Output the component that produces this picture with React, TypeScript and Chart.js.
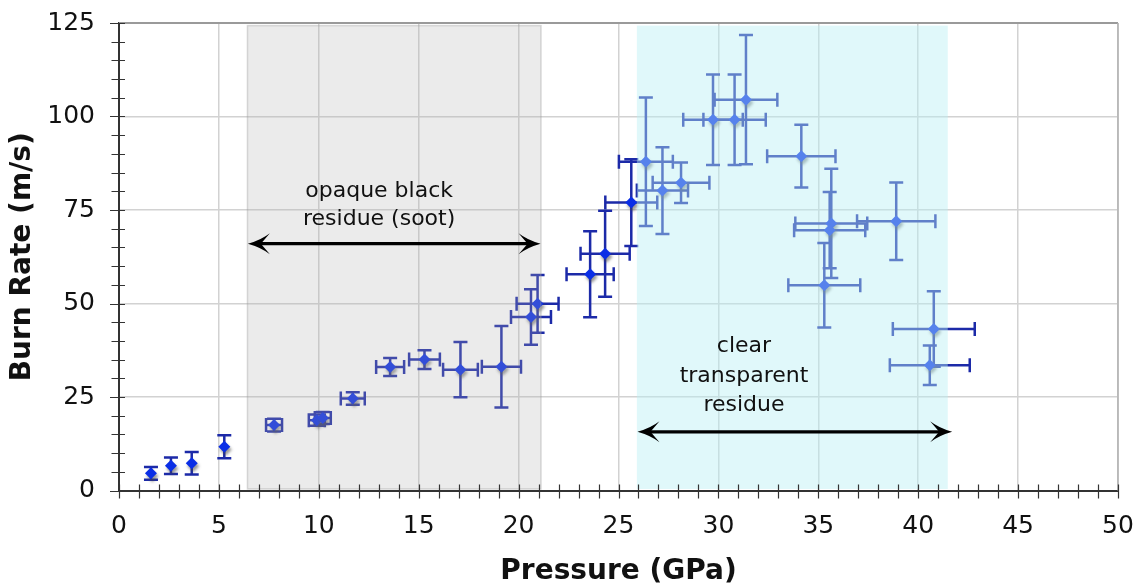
import React, { useEffect, useRef } from 'react';
import { Chart, registerables } from 'chart.js';

Chart.register(...registerables);

// Pressure (GPa) of each measurement
const pressure = [1.6, 2.6, 3.64, 5.27, 7.76, 9.9, 10.2, 11.7, 13.57, 15.29, 17.09, 19.14, 20.62, 20.95, 23.58, 24.33, 25.64, 26.37, 27.2, 28.13, 29.73, 30.81, 31.38, 34.15, 35.65, 35.57, 38.9, 35.3, 40.78, 40.58];
// Burn rate (m/s)
const burnRate = [4.6, 6.6, 7.3, 11.7, 17.5, 18.8, 19.4, 24.6, 33.0, 35.0, 32.3, 33.1, 46.4, 49.9, 57.8, 63.3, 77.0, 87.9, 80.2, 82.3, 99.1, 99.1, 104.5, 89.4, 71.4, 69.6, 72.0, 54.9, 43.2, 33.5];
// Symmetric errors
const pressureErr = [0, 0, 0, 0, 0.4, 0.4, 0.4, 0.6, 0.7, 0.77, 0.87, 0.98, 1.0, 1.05, 1.18, 1.23, 1.3, 1.35, 1.28, 1.42, 1.49, 1.56, 1.57, 1.71, 1.8, 1.78, 1.96, 1.8, 2.05, 2.0];
const burnRateErr = [1.7, 2.2, 3.0, 3.1, 1.7, 1.5, 1.6, 1.7, 2.4, 2.5, 7.4, 10.9, 7.4, 7.7, 11.5, 11.5, 11.6, 17.2, 11.6, 5.4, 12.1, 12.1, 17.3, 8.4, 14.6, 10.2, 10.35, 11.3, 10.1, 5.3];

// Shaded residue regions (GPa) and their annotation arrows
const sootRegion = [6.43, 21.12];
const clearRegion = [25.92, 41.48];
const regionTop = 124.3;
const regionBottom = 0.4;
const sootArrow = { from: 6.45, to: 21.1, at: 66.0 };
const clearArrow = { from: 25.95, to: 41.7, at: 15.7 };
const sootLabel = { lines: ['opaque black', 'residue (soot)'], x: 13.02, y: [78.6, 71.1] };
const clearLabel = { lines: ['clear', 'transparent', 'residue'], x: 31.28, y: [36.9, 29.1, 21.3] };

const xMin = 0, xMax = 50, xStep = 5, xMinor = 1;
const yMin = 0, yMax = 125, yStep = 25, yMinor = 5;

const FONT = '"DejaVu Sans", Verdana, sans-serif';
const BAR_COLOR = '#1c2aa8';
const MARK_COLOR = '#0a2ee6';

function drawArrow(ctx: CanvasRenderingContext2D, x1: number, x2: number, y: number) {
  ctx.save();
  ctx.strokeStyle = '#000';
  ctx.fillStyle = '#000';
  ctx.lineWidth = 3.3;
  ctx.beginPath();
  ctx.moveTo(x1 + 12, y);
  ctx.lineTo(x2 - 12, y);
  ctx.stroke();
  const head = (tip: number, dir: number) => {
    const L = 22, W = 10.5, N = 13;
    ctx.beginPath();
    ctx.moveTo(tip, y);
    ctx.quadraticCurveTo(tip + dir * L * 0.6, y - W * 0.35, tip + dir * L, y - W);
    ctx.lineTo(tip + dir * N, y);
    ctx.lineTo(tip + dir * L, y + W);
    ctx.quadraticCurveTo(tip + dir * L * 0.6, y + W * 0.35, tip, y);
    ctx.closePath();
    ctx.fill();
  };
  head(x1, 1);
  head(x2, -1);
  ctx.restore();
}

const chartPlugin = {
  id: 'burnDecor',
  beforeDatasetsDraw(chart: any) {
    const { ctx, scales } = chart;
    const x = scales.x, y = scales.y;
    ctx.save();
    ctx.strokeStyle = BAR_COLOR;
    ctx.lineWidth = 2.5;
    const cap = 7;
    pressure.forEach((p: number, i: number) => {
      const px = x.getPixelForValue(p);
      const py = y.getPixelForValue(burnRate[i]);
      const ye = burnRateErr[i];
      const xe = pressureErr[i];
      ctx.beginPath();
      if (ye > 0) {
        const t = y.getPixelForValue(burnRate[i] + ye);
        const b = y.getPixelForValue(burnRate[i] - ye);
        ctx.moveTo(px, t); ctx.lineTo(px, b);
        ctx.moveTo(px - cap, t); ctx.lineTo(px + cap, t);
        ctx.moveTo(px - cap, b); ctx.lineTo(px + cap, b);
      }
      if (xe > 0) {
        const l = x.getPixelForValue(p - xe);
        const r = x.getPixelForValue(p + xe);
        ctx.moveTo(l, py); ctx.lineTo(r, py);
        ctx.moveTo(l, py - cap); ctx.lineTo(l, py + cap);
        ctx.moveTo(r, py - cap); ctx.lineTo(r, py + cap);
      }
      ctx.stroke();
    });
    ctx.restore();
  },
  beforeDatasetDraw(chart: any) {
    const ctx = chart.ctx;
    ctx.save();
    ctx.shadowColor = 'rgba(70,70,70,0.55)';
    ctx.shadowBlur = 3;
    ctx.shadowOffsetX = 1.5;
    ctx.shadowOffsetY = 3;
  },
  afterDatasetDraw(chart: any) {
    chart.ctx.restore();
  },
  afterDatasetsDraw(chart: any) {
    const { ctx, scales, chartArea } = chart;
    const x = scales.x, y = scales.y;
    const top = y.getPixelForValue(regionTop);
    const bot = y.getPixelForValue(regionBottom);
    ctx.save();
    {
      const l = x.getPixelForValue(sootRegion[0]);
      const r = x.getPixelForValue(sootRegion[1]);
      ctx.fillStyle = 'rgba(175,175,175,0.25)';
      ctx.fillRect(l, top, r - l, bot - top);
      ctx.strokeStyle = 'rgba(150,150,150,0.35)';
      ctx.lineWidth = 1.5;
      ctx.strokeRect(l, top, r - l, bot - top);
    }
    {
      const l = x.getPixelForValue(clearRegion[0]);
      const r = x.getPixelForValue(clearRegion[1]);
      ctx.fillStyle = 'rgba(184,239,244,0.44)';
      ctx.fillRect(l, top, r - l, bot - top);
    }
    drawArrow(ctx, x.getPixelForValue(sootArrow.from), x.getPixelForValue(sootArrow.to), y.getPixelForValue(sootArrow.at));
    drawArrow(ctx, x.getPixelForValue(clearArrow.from), x.getPixelForValue(clearArrow.to), y.getPixelForValue(clearArrow.at));
    ctx.fillStyle = '#111';
    ctx.font = `22px ${FONT}`;
    ctx.textAlign = 'center';
    ctx.textBaseline = 'alphabetic';
    sootLabel.lines.forEach((t, i) => ctx.fillText(t, x.getPixelForValue(sootLabel.x), y.getPixelForValue(sootLabel.y[i])));
    clearLabel.lines.forEach((t, i) => ctx.fillText(t, x.getPixelForValue(clearLabel.x), y.getPixelForValue(clearLabel.y[i])));

    ctx.strokeStyle = '#9a9a9a';
    ctx.lineWidth = 2;
    ctx.beginPath();
    ctx.moveTo(chartArea.left, chartArea.top);
    ctx.lineTo(chartArea.right, chartArea.top);
    ctx.stroke();
    ctx.lineWidth = 1.5;
    ctx.strokeStyle = '#b0b0b0';
    ctx.beginPath();
    ctx.moveTo(chartArea.right, chartArea.top);
    ctx.lineTo(chartArea.right, chartArea.bottom);
    ctx.stroke();

    ctx.strokeStyle = '#333';
    ctx.lineWidth = 1.2;
    ctx.beginPath();
    const ay = y.getPixelForValue(yMin);
    for (let v = xMin; v <= xMax + 1e-9; v += xMinor) {
      const px = Math.round(x.getPixelForValue(v)) + 0.5;
      ctx.moveTo(px, ay - 6);
      ctx.lineTo(px, ay + 8);
    }
    const ax = x.getPixelForValue(xMin);
    for (let v = yMin; v <= yMax + 1e-9; v += yMinor) {
      const py = Math.round(y.getPixelForValue(v)) + 0.5;
      const major = v % yStep === 0;
      ctx.moveTo(ax - (major ? 9 : 7.5), py);
      ctx.lineTo(ax + 6, py);
    }
    ctx.stroke();
    ctx.restore();
  },
};

export default function App() {
  const ref = useRef<HTMLCanvasElement>(null);
  useEffect(() => {
    if (!ref.current) return;
    const chart = new Chart(ref.current, {
      type: 'scatter',
      data: {
        datasets: [
          {
            label: 'Burn rate',
            data: pressure.map((p, i) => ({ x: p, y: burnRate[i] })),
            pointStyle: 'rectRot',
            pointRadius: 6,
            pointHoverRadius: 6,
            backgroundColor: MARK_COLOR,
            borderColor: MARK_COLOR,
            borderWidth: 0,
          },
        ],
      },
      options: {
        animation: false,
        responsive: false,
        devicePixelRatio: 1,
        layout: { padding: { top: 23, right: 18, left: 0, bottom: 0 } },
        plugins: { legend: { display: false }, tooltip: { enabled: false } },
        scales: {
          x: {
            type: 'linear',
            min: xMin,
            max: xMax,
            afterFit: (s: any) => { s.height = 95.5; s.paddingLeft = 0; s.paddingRight = 0; },
            ticks: { stepSize: xStep, color: '#111', padding: 21, font: { family: FONT, size: 25 } },
            grid: { color: '#d2d2d2', lineWidth: 1.5, drawTicks: false },
            border: { display: true, color: '#333', width: 2 },
            title: { display: true, text: 'Pressure (GPa)', color: '#111', padding: { top: 0 }, font: { family: FONT, size: 28, weight: 'bold', lineHeight: 0.7 } },
          },
          y: {
            type: 'linear',
            min: yMin,
            max: yMax,
            afterFit: (s: any) => { s.width = 119; s.paddingTop = 0; s.paddingBottom = 0; },
            ticks: { stepSize: yStep, color: '#111', padding: 24, font: { family: FONT, size: 25 } },
            grid: { color: '#d2d2d2', lineWidth: 1.5, drawTicks: false },
            border: { display: true, color: '#333', width: 2 },
            title: { display: true, text: 'Burn Rate (m/s)', color: '#111', padding: { top: 6 }, font: { family: FONT, size: 28, weight: 'bold' } },
          },
        },
      },
      plugins: [chartPlugin],
    });
    return () => chart.destroy();
  }, []);
  return (
    <div style={{ position: 'absolute', left: 0, top: 0, width: 1136, height: 586, background: '#fff' }}>
      <canvas ref={ref} width={1136} height={586} style={{ display: 'block' }} />
    </div>
  );
}
